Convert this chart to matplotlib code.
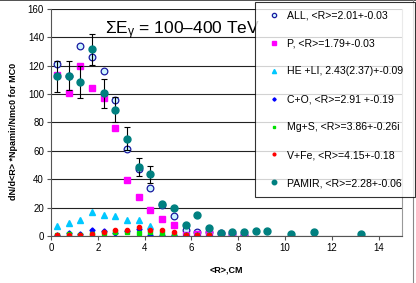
import matplotlib
import matplotlib.pyplot as plt
from matplotlib.lines import Line2D

matplotlib.use("Agg")

plt.rcParams['font.family'] = ['Liberation Sans', 'DejaVu Sans']
plt.rcParams['mathtext.fontset'] = 'custom'
plt.rcParams['mathtext.rm'] = 'Liberation Sans'
plt.rcParams['mathtext.it'] = 'Liberation Sans:italic'

# bin centres, <R> in cm
x_all = [0.25, 0.75, 1.25, 1.75, 2.25, 2.75, 3.25, 3.75, 4.25, 4.75, 5.25, 5.75,
         6.25, 6.75, 7.25, 7.75, 8.25]
y_all = [121, 113, 134, 126, 116, 96, 61, 47, 34, 22, 14, 4, 3, 3, 2, 1.5, 1]

x_p = x_all
y_p = [113.5, 100.5, 120, 104.5, 97, 76, 39.5, 27.5, 18, 12, 7.5, 1, 1.5, 2, 1.5, 1.5, 1]

x_he = [0.25, 0.75, 1.25, 1.75, 2.25, 2.75, 3.25, 3.75, 4.25, 4.75, 5.25, 5.75, 11.25]
y_he = [7, 9.5, 11.5, 17, 15, 14, 11, 11, 7, 1, 0.5, 0, 0]

x_light = [0.25, 0.75, 1.25, 1.75, 2.25, 2.75, 3.25, 3.75, 4.25, 4.75, 5.25, 5.75, 6.25, 6.75]
y_co = [1, 2, 1.5, 4, 3.5, 2, 3.5, 5, 1, 0.5, 0.5, 0.5, 0.5, 0.5]
y_mgs = [1, 1.5, 0.5, 1.5, 2, 3, 3, 2, 3, 2, 0.5, 1, 0.5, 0.5]
y_vfe = [0.5, 0.5, 0.5, 1.5, 3, 4, 4, 6, 4, 4, 3, 1, 1, 1]

x_pamir = [0.25, 0.75, 1.25, 1.75, 2.25, 2.75, 3.25, 3.75, 4.25, 4.75, 5.25, 5.75,
           6.25, 6.75, 7.25, 7.75, 8.25, 8.75, 9.25, 10.25, 11.25, 13.25]
y_pamir = [112.5, 113, 108.5, 131.5, 100.5, 89, 68.5, 48.5, 43.5, 22.5, 19.5, 8,
           14.5, 5.5, 2, 2.5, 2.5, 3.5, 3.5, 1.5, 2.5, 1.5]
err_pamir = [11, 10, 11, 11, 10, 9, 8, 6.5, 6]

labels = ["ALL, <R>=2.01+-0.03", "P, <R>=1.79+-0.03", "HE +LI, 2.43(2.37)+-0.09",
          "C+O, <R>=2.91 +-0.19", "Mg+S, <R>=3.86+-0.26i", "V+Fe, <R>=4.15+-0.18",
          "PAMIR, <R>=2.28+-0.06"]

fig = plt.figure(figsize=(4.16, 2.83), dpi=100)
ax = fig.add_axes([51 / 416, 1 - 236 / 283, 351 / 416, 227 / 283])

h_all, = ax.plot(x_all, y_all, 'o', ms=4.8, mfc='#ccf4ff', mec='#1a1aa0', mew=0.9, ls='none')
h_p, = ax.plot(x_p, y_p, 's', ms=4.6, color='#ff00ff', ls='none')
h_he, = ax.plot(x_he, y_he, '^', ms=4.6, color='#00c8ff', ls='none')
h_co, = ax.plot(x_light, y_co, 'D', ms=2.6, color='#0000ff', ls='none')
h_mg, = ax.plot(x_light, y_mgs, 's', ms=2.8, color='#00e000', ls='none')
h_fe, = ax.plot(x_light, y_vfe, 'o', ms=3.0, color='#ff0000', ls='none')
n = len(err_pamir)
ax.errorbar(x_pamir[:n], y_pamir[:n], yerr=err_pamir, fmt='none', ecolor='black',
            elinewidth=0.8, capsize=2.2, capthick=0.8)
h_pa, = ax.plot(x_pamir, y_pamir, 'o', ms=5.0, color='#008080', ls='none')

ax.set_xlim(0, 15)
ax.set_ylim(0, 160)
ax.set_xticks([0, 2, 4, 6, 8, 10, 12, 14])
ax.set_yticks(range(0, 161, 20))
ax.tick_params(labelsize=7, length=3, width=0.8, color='#555555', direction='out', pad=2)
ax.yaxis.grid(True, color='#222222', lw=0.8)
ax.set_axisbelow(True)
ax.spines['top'].set_visible(False)
ax.spines['right'].set_color('#999999')
ax.spines['left'].set_color('#555555')
ax.spines['bottom'].set_color('#555555')

ax.set_xlabel("<R>,CM", fontsize=6.5, fontweight='bold')
ax.xaxis.set_label_coords(0.5, -0.13)
ax.set_ylabel("dN/d<R> *Npamir/Nmc0 for MC0", fontsize=6.5, fontweight='bold')
ax.yaxis.set_label_coords(-0.095, 0.46)

fig.text(105 / 416, 1 - 34 / 283, r"ΣE$_{\mathrm{γ}}$ = 100–400 TeV", fontsize=12.5, va='baseline')

leg = fig.legend([h_all, h_p, h_he, h_co, h_mg, h_fe, h_pa], labels,
                 loc='upper left', mode='expand',
                 bbox_to_anchor=(255 / 416, 1 - 197 / 283, 160 / 416, 195 / 283),
                 borderaxespad=0, fontsize=7.6, markerscale=0.65, labelspacing=1.7,
                 handlelength=2.0, handletextpad=0.2, borderpad=0.8,
                 frameon=True, fancybox=False)
leg.get_frame().set_edgecolor('black')
leg.get_frame().set_linewidth(0.8)

# picture border
fig.add_artist(Line2D([0, 1], [0.999, 0.999], color='#333333', lw=1.2))
fig.add_artist(Line2D([413 / 416, 413 / 416], [0, 1], color='#888888', lw=0.8))

fig.savefig("out.png", dpi=100)
